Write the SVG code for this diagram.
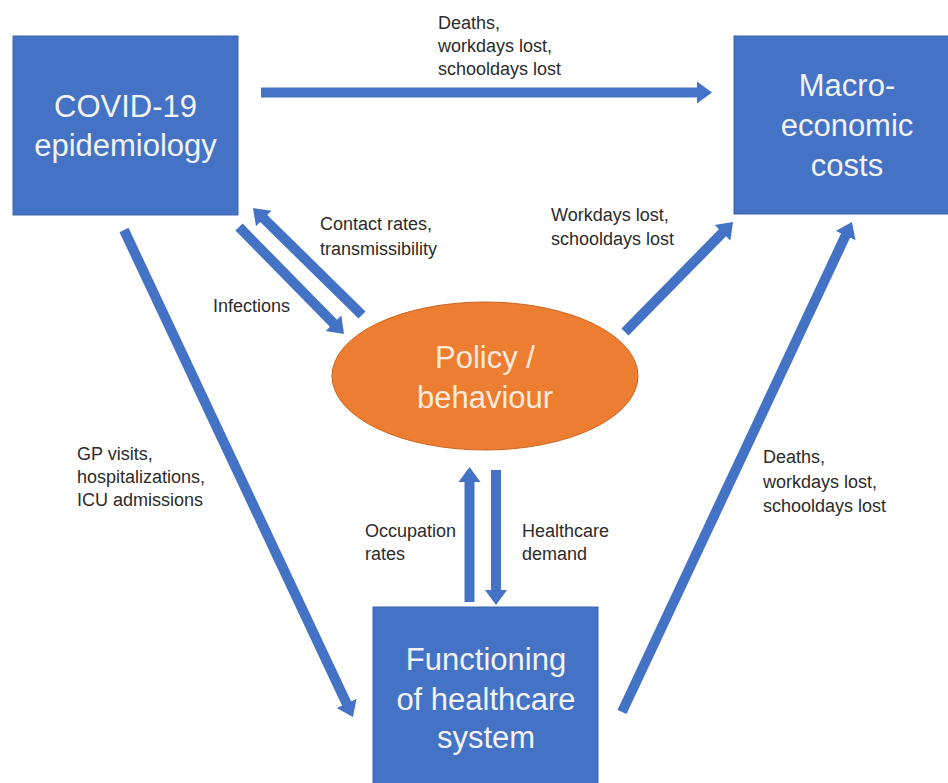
<svg xmlns="http://www.w3.org/2000/svg" width="948" height="783" viewBox="0 0 948 783">
<defs>
<marker id="ah" markerUnits="userSpaceOnUse" markerWidth="18" markerHeight="26" viewBox="-1 -13 18 26" refX="0" refY="0" orient="auto">
<path d="M-1,-11 L14,0 L-1,11 Z" fill="#4472C4"/>
</marker>
<style>
.box{fill:#4472C4;stroke:#3A64AE;stroke-width:1}
.ell{fill:#ED7D31;stroke:#C9651F;stroke-width:1}
.big{font-family:"Liberation Sans",Arial,sans-serif;font-size:31px;fill:#F2F2F2;text-anchor:middle}
.bigo{font-family:"Liberation Sans",Arial,sans-serif;font-size:31px;fill:#FCEBDD;text-anchor:middle}
.lbl{font-family:"Liberation Sans",Arial,sans-serif;font-size:18px;fill:#2B2B2B}
.arr{stroke:#4472C4;stroke-width:10;fill:none;marker-end:url(#ah)}
</style>
</defs>
<rect width="948" height="783" fill="#FFFFFF"/>
<g id="covid">
<rect class="box" x="13" y="36" width="225" height="179"/>
<text class="big" x="125.5" y="117">COVID-19</text>
<text class="big" x="125.5" y="156">epidemiology</text>
</g>
<g id="macro">
<rect class="box" x="734" y="36" width="226" height="178"/>
<text class="big" x="847" y="96">Macro-</text>
<text class="big" x="847" y="136">economic</text>
<text class="big" x="847" y="176">costs</text>
</g>
<g id="policy">
<ellipse class="ell" cx="485" cy="376" rx="153" ry="74"/>
<text class="bigo" x="485" y="368">Policy /</text>
<text class="bigo" x="485" y="408">behaviour</text>
</g>
<g id="healthcare">
<rect class="box" x="373" y="607" width="225" height="190"/>
<text class="big" x="486" y="670">Functioning</text>
<text class="big" x="486" y="710">of healthcare</text>
<text class="big" x="486" y="748">system</text>
</g>
<g id="connectors">
<line class="arr" x1="261" y1="92.5" x2="698" y2="92.5"/>
<line class="arr" x1="239" y1="227" x2="334.2" y2="324"/>
<line class="arr" x1="362" y1="315" x2="263" y2="217.8"/>
<line class="arr" x1="625" y1="332" x2="723.2" y2="232"/>
<line class="arr" x1="124" y1="230" x2="347" y2="704.3"/>
<line class="arr" x1="622" y1="712" x2="846" y2="234.7"/>
<line class="arr" x1="469.5" y1="602" x2="469.5" y2="481"/>
<line class="arr" x1="496" y1="470" x2="496" y2="591"/>
</g>
<g id="labels">
<text class="lbl" x="438" y="29">Deaths,</text>
<text class="lbl" x="438" y="52">workdays lost,</text>
<text class="lbl" x="438" y="75">schooldays lost</text>
<text class="lbl" x="320" y="230">Contact rates,</text>
<text class="lbl" x="320" y="255">transmissibility</text>
<text class="lbl" x="213" y="312">Infections</text>
<text class="lbl" x="551" y="221">Workdays lost,</text>
<text class="lbl" x="551" y="245">schooldays lost</text>
<text class="lbl" x="77" y="460">GP visits,</text>
<text class="lbl" x="77" y="483">hospitalizations,</text>
<text class="lbl" x="77" y="506">ICU admissions</text>
<text class="lbl" x="763" y="463">Deaths,</text>
<text class="lbl" x="763" y="488">workdays lost,</text>
<text class="lbl" x="763" y="512">schooldays lost</text>
<text class="lbl" x="365" y="537">Occupation</text>
<text class="lbl" x="365" y="560">rates</text>
<text class="lbl" x="522" y="537">Healthcare</text>
<text class="lbl" x="522" y="560">demand</text>
</g>
</svg>
